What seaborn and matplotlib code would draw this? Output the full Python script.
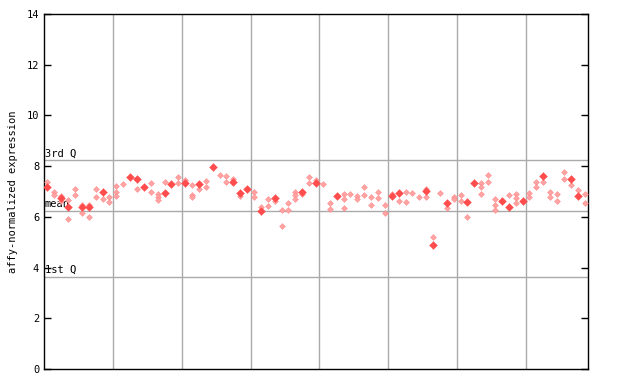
import numpy as np
import pandas as pd
import matplotlib
matplotlib.use('Agg')
import seaborn as sns
import matplotlib.pyplot as plt

# sample columns (0..78), filled or checkered
filled_idx = [0, 2, 3, 5, 6, 8, 12, 13, 14, 17, 18, 20, 22, 24, 27, 28, 29, 31, 33, 37,
              39, 42, 50, 51, 55, 56, 58, 61, 62, 66, 67, 69, 72, 76, 77]
filled_val = [7.19, 6.73, 6.40, 6.40, 6.40, 6.99, 7.58, 7.50, 7.19, 6.96, 7.28, 7.35, 7.28, 7.95, 7.36, 6.96, 7.08, 6.24, 6.73, 6.99,
              7.32, 6.82, 6.82, 6.96, 7.02, 4.89, 6.56, 6.60, 7.32, 6.64, 6.40, 6.64, 7.63, 7.50, 6.82]

check_idx = [0, 1, 1, 2, 2, 3, 3, 4, 4, 5, 5, 6, 6, 7, 7, 8, 9, 9,
             10, 10, 10, 11, 13, 15, 15, 16, 16, 16, 17, 19, 19,
             20, 21, 21, 21, 22, 23, 23, 25, 26, 26, 27, 28, 30, 30, 31, 32, 32, 33, 34, 34,
             35, 35, 36, 36, 36, 37, 38, 38, 39,
             40, 41, 41, 43, 43, 43, 44, 45, 45, 46, 46, 47, 47, 48, 48, 49, 49,
             50, 51, 52, 52, 53, 54, 55, 55, 56, 57, 58, 59, 59,
             60, 60, 61, 63, 63, 63, 64, 64, 65, 65, 65, 67, 68, 68, 68,
             70, 70, 71, 71, 72, 73, 73, 74, 74, 75, 75, 76, 77, 78, 78]
check_val = [7.37, 6.97, 6.88, 6.82, 6.64, 6.66, 5.90, 7.08, 6.86, 6.47, 6.14, 6.47, 6.00, 7.08, 6.80, 6.69, 6.77, 6.60,
             7.20, 6.99, 6.82, 7.28, 7.08, 7.32, 6.99, 6.92, 6.77, 6.66, 7.36, 7.56, 7.32,
             7.45, 7.26, 6.86, 6.80, 7.08, 7.40, 7.19, 7.65, 7.61, 7.39, 7.50, 6.82, 6.99, 6.77, 6.37, 6.69, 6.43, 6.62, 6.27, 5.64,
             6.53, 6.27, 6.99, 6.86, 6.69, 6.92, 7.56, 7.32, 7.45,
             7.28, 6.53, 6.30, 6.92, 6.69, 6.33, 6.92, 6.82, 6.69, 7.16, 6.88, 6.77, 6.47, 6.99, 6.73, 6.47, 6.14,
             6.90, 6.64, 6.99, 6.60, 6.95, 6.77, 7.08, 6.80, 5.19, 6.96, 6.33, 6.77, 6.69,
             6.86, 6.62, 5.98, 7.35, 7.16, 6.92, 7.65, 7.39, 6.69, 6.47, 6.27, 6.86, 6.90, 6.73, 6.53,
             6.96, 6.77, 7.39, 7.16, 7.39, 6.99, 6.77, 6.92, 6.64, 7.75, 7.48, 7.24, 7.06, 6.92, 6.53]

ref_names = ['3rd Q', 'mean', '1st Q']
ref_vals = [8.23, 6.23, 3.63]
grid_x = [9.5, 19.5, 29.5, 39.5, 49.5, 59.5, 69.5]

df_f = pd.DataFrame({'idx': filled_idx, 'val': filled_val})
df_c = pd.DataFrame({'idx': check_idx, 'val': check_val})

plt.rcParams['font.family'] = ['DejaVu Sans Mono']
fig = plt.figure(figsize=(6.4, 3.84), dpi=100)
ax = fig.add_axes([44 / 640, 1 - 369 / 384, 544 / 640, 355 / 384])

# grille
for gx in grid_x:
    ax.axvline(gx, color='#aaaaaa', lw=1, zorder=0)
for name, v in zip(ref_names, ref_vals):
    ax.axhline(v, color='#aaaaaa', lw=1, zorder=0)
    ax.text(-0.4, v + 0.08, name, fontsize=7.5, va='bottom', ha='left', color='black')

# points
sns.scatterplot(data=df_c, x='idx', y='val', marker='D', s=9, color='#ffa3a3',
                edgecolor='#ff8080', linewidth=0.3, ax=ax, zorder=3)
sns.scatterplot(data=df_f, x='idx', y='val', marker='D', s=16, color='#ff4d4d',
                edgecolor='#ff4d4d', linewidth=0.3, ax=ax, zorder=4)

ax.set_xlim(-0.5, 78.5)
ax.set_ylim(0, 14)
ax.set_yticks(range(0, 15, 2))
ax.set_xticks([])
ax.tick_params(axis='y', direction='in', length=5, labelsize=7.5, right=True, width=1)
ax.set_xlabel('')
ax.set_ylabel('affy-normalized expression', fontsize=7.5, labelpad=6)
for s in ax.spines.values():
    s.set_color('black')
    s.set_linewidth(1)

plt.savefig('out.png', dpi=100)
plt.close()
